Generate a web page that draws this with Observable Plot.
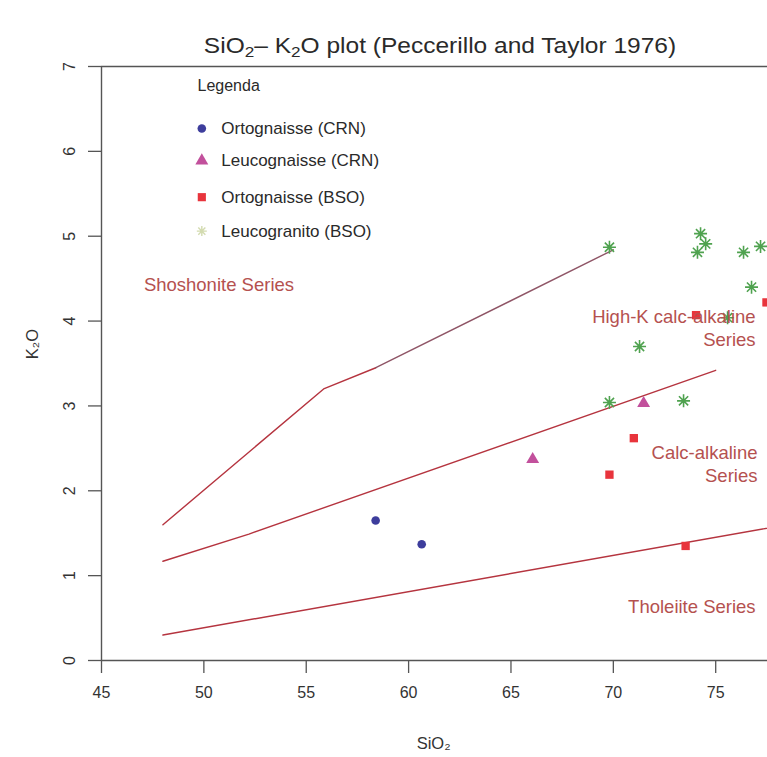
<!DOCTYPE html>
<html><head><meta charset="utf-8">
<script src="https://cdn.jsdelivr.net/npm/d3@7"></script>
<script src="https://cdn.jsdelivr.net/npm/@observablehq/plot@0.6"></script>
<style>
body{margin:0;background:#fff;font-family:"Liberation Sans",Arial,sans-serif;}
#title{position:relative;height:60px;width:767px;overflow:hidden;}
#title span{position:absolute;left:440px;top:33px;white-space:nowrap;font-size:21.5px;line-height:26px;color:#2a2a2a;transform:translateX(-50%) scaleX(1.14);}
#title sub{font-size:70%;vertical-align:-0.25em;line-height:0;}
</style></head><body>
<div id="title"><span>SiO<sub>2</sub>– K<sub>2</sub>O plot (Peccerillo and Taylor 1976)</span></div>
<div id="chart"></div>
<script>
// ---- data ----
const xTicks = [45, 50, 55, 60, 65, 70, 75];
const yTicks = [0, 1, 2, 3, 4, 5, 6, 7];

const ortoCRN_x = [58.39, 60.64];
const ortoCRN_y = [1.65, 1.37];
const leucoCRN_x = [66.06, 71.48];
const leucoCRN_y = [2.37, 3.03];
const ortoBSO_x = [69.81, 71.0, 74.04, 73.53, 77.48];
const ortoBSO_y = [2.19, 2.62, 4.07, 1.35, 4.22];
const leucoBSO_x = [69.81, 69.81, 71.28, 73.43, 74.26, 74.51, 74.11, 76.36, 77.19, 76.75, 75.58];
const leucoBSO_y = [4.87, 3.04, 3.70, 3.06, 5.03, 4.91, 4.81, 4.81, 4.88, 4.40, 4.04];

// boundary lines (Peccerillo & Taylor 1976)
const shoX = [48, 55.85, 58.4];
const shoY = [1.60, 3.20, 3.45];
const sho2X = [58.4, 70.0];
const sho2Y = [3.45, 4.84];
const highKX = [48, 52.2, 75.0];
const highKY = [1.17, 1.49, 3.42];
const tholX = [48, 78];
const tholY = [0.30, 1.58];

const seriesNames = ["Shoshonite Series", "High-K calc-alkaline\nSeries", "Calc-alkaline\nSeries", "Tholeiite Series"];
const seriesX = [47.07, 76.95, 77.04, 76.95];
const seriesY = [4.44, 3.93, 2.33, 0.645];
const seriesAnchor = ["start", "end", "end", "end"];

const legendTitle = "Legenda";
const legendNames = ["Ortognaisse (CRN)", "Leucognaisse (CRN)", "Ortognaisse (BSO)", "Leucogranito (BSO)"];
const legendY = [6.27, 5.89, 5.46, 5.06];

// ---- build ----
const zip = (xs, ys) => xs.map((x, i) => ({x, y: ys[i]}));
const asterisk8 = {
  draw(ctx, size) {
    const r = Math.sqrt(size / Math.PI), d = r / Math.SQRT2;
    ctx.moveTo(-r, 0); ctx.lineTo(r, 0);
    ctx.moveTo(0, -r); ctx.lineTo(0, r);
    ctx.moveTo(-d, -d); ctx.lineTo(d, d);
    ctx.moveTo(-d, d); ctx.lineTo(d, -d);
  }
};
const lineCol = "#b5343f", textCol = "#b5514f", axisCol = "#555";
const colBlue = "#3d3d9c", colMag = "#c2509c", colRed = "#e8343c", colGreen = "#4fa24f";
const legSym = [
  {symbol: "circle", fill: colBlue, stroke: "none", r: 4.3},
  {symbol: "triangle", fill: colMag, stroke: "none", r: 4.8},
  {symbol: "square", fill: colRed, stroke: "none", r: 4.6},
  {symbol: asterisk8, fill: "none", stroke: "#d3dbb0", r: 5}
];
const legendLX = 49.9, legendTX = 50.85;
const labels = seriesNames.map((t, i) => ({t, x: seriesX[i], y: seriesY[i], a: seriesAnchor[i]}));

const chart = Plot.plot({
  width: 767, height: 697,
  marginTop: 6, marginBottom: 97, marginLeft: 101, marginRight: 0,
  x: {type: "linear", domain: [45, 77.53], axis: null},
  y: {type: "linear", domain: [0, 7], axis: null},
  style: {fontFamily: '"Liberation Sans", Arial, sans-serif', background: "white"},
  marks: [
    // frame
    Plot.ruleY([7], {stroke: axisCol, strokeWidth: 1.4}),
    Plot.ruleY([0], {stroke: axisCol, strokeWidth: 1.4}),
    Plot.ruleX([45], {y1: 0, y2: 7, stroke: axisCol, strokeWidth: 1.4}),
    // ticks
    Plot.ruleY(yTicks, {y: d => d, x1: 45 - 13 / 20.48, x2: 45, stroke: axisCol, strokeWidth: 1.3}),
    Plot.ruleX(xTicks, {x: d => d, y1: 0, y2: -13 / 84.76, stroke: axisCol, strokeWidth: 1.3}),
    Plot.text(xTicks, {x: d => d, y: 0, dy: 32, text: d => String(d), fontSize: 16, fill: "#333"}),
    Plot.text(yTicks, {x: 45, y: d => d, dx: -32, rotate: -90, text: d => String(d), fontSize: 16, fill: "#333"}),
    Plot.text(["SiO₂"], {frameAnchor: "bottom", dy: 88, x: 61.22, fontSize: 16.5, fill: "#333"}),
    Plot.text(["K₂O"], {frameAnchor: "left", dx: -69, y: 3.55, rotate: -90, fontSize: 16.5, fill: "#333"}),
    // boundary lines
    Plot.line(zip(shoX, shoY), {x: "x", y: "y", stroke: lineCol, strokeWidth: 1.4}),
    Plot.line(zip(sho2X, sho2Y), {x: "x", y: "y", stroke: "#8f5566", strokeWidth: 1.4}),
    Plot.line(zip(highKX, highKY), {x: "x", y: "y", stroke: lineCol, strokeWidth: 1.4}),
    Plot.line(zip(tholX, tholY), {x: "x", y: "y", stroke: lineCol, strokeWidth: 1.4}),
    // data
    Plot.dot(zip(ortoCRN_x, ortoCRN_y), {x: "x", y: "y", symbol: "circle", r: 4.3, fill: colBlue, stroke: "none"}),
    Plot.dot(zip(leucoCRN_x, leucoCRN_y), {x: "x", y: "y", symbol: "triangle", r: 4.8, fill: colMag, stroke: "none"}),
    Plot.dot(zip(ortoBSO_x, ortoBSO_y), {x: "x", y: "y", symbol: "square", r: 4.7, fill: colRed, stroke: "none"}),
    Plot.dot(zip(leucoBSO_x, leucoBSO_y), {x: "x", y: "y", symbol: asterisk8, r: 6.5, fill: "none", stroke: colGreen, strokeWidth: 1.6}),
    // series labels
    Plot.text(labels.filter(d => d.a === "start"), {x: "x", y: "y", text: "t", textAnchor: "start", fontSize: 18.5, fill: textCol, lineHeight: 1.25}),
    Plot.text(labels.filter(d => d.a === "end"), {x: "x", y: "y", text: "t", textAnchor: "end", fontSize: 18.5, fill: textCol, lineHeight: 1.25}),
    // legend
    Plot.text([legendTitle], {x: 49.69, y: 6.77, textAnchor: "start", fontSize: 16, fill: "#2a2a2a"}),
    ...legSym.map((s, i) => Plot.dot([legendY[i]], {x: legendLX, y: d => d, symbol: s.symbol, fill: s.fill, stroke: s.stroke, r: s.r, strokeWidth: 1.4})),
    Plot.text(legendNames.map((t, i) => ({t, y: legendY[i]})), {x: legendTX, y: "y", text: "t", textAnchor: "start", fontSize: 17, fill: "#2a2a2a"})
  ]
});
document.getElementById("chart").appendChild(chart);
</script>
</body></html>
